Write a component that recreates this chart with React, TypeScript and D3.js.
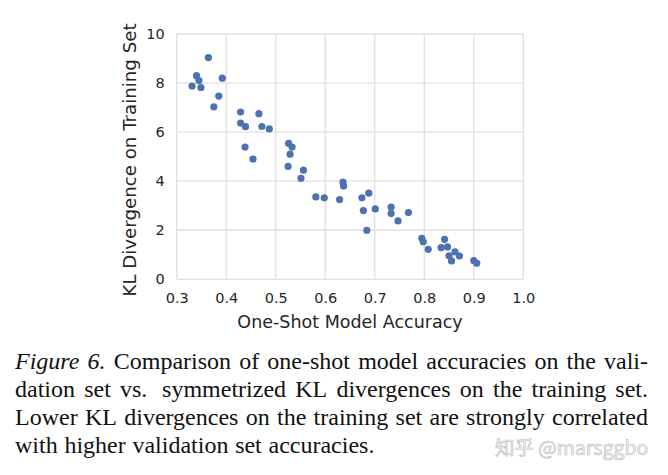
import React, { useEffect, useRef } from "react";
import * as d3 from "d3";

// one-shot model accuracy (x) vs KL divergence on training set (y)
const accuracy = [
  0.364, 0.34, 0.345, 0.331, 0.349, 0.392, 0.385, 0.375, 0.429, 0.466, 0.429,
  0.439, 0.472, 0.487, 0.438, 0.454, 0.526, 0.533, 0.529, 0.525, 0.556, 0.551,
  0.581, 0.598, 0.636, 0.637, 0.629, 0.674, 0.688, 0.677, 0.701, 0.684, 0.733,
  0.733, 0.747, 0.768, 0.795, 0.798, 0.808, 0.841, 0.834, 0.847, 0.862, 0.871,
  0.85, 0.855, 0.9, 0.906,
];
const klDivergence = [
  9.04, 8.3, 8.1, 7.88, 7.82, 8.2, 7.47, 7.03, 6.82, 6.75, 6.37, 6.22, 6.23,
  6.13, 5.39, 4.9, 5.54, 5.39, 5.1, 4.6, 4.45, 4.12, 3.36, 3.32, 3.96, 3.8,
  3.25, 3.32, 3.51, 2.8, 2.87, 2.0, 2.94, 2.68, 2.38, 2.72, 1.67, 1.53, 1.22,
  1.63, 1.29, 1.32, 1.12, 0.95, 0.96, 0.75, 0.76, 0.65,
];
const xTicks = [0.3, 0.4, 0.5, 0.6, 0.7, 0.8, 0.9, 1.0];
const yTicks = [0, 2, 4, 6, 8, 10];

const captionLines = [
  "Comparison of one-shot model accuracies on the vali-",
  "dation set vs.  symmetrized KL divergences on the training set.",
  "Lower KL divergences on the training set are strongly correlated",
  "with higher validation set accuracies.",
];

export default function App() {
  const ref = useRef<SVGSVGElement>(null);

  useEffect(() => {
    const svg = d3.select(ref.current);
    svg.selectAll("*").remove();

    const left = 176.7,
      right = 523.3,
      top = 34,
      bottom = 279.3;
    const font = "'DejaVu Sans', sans-serif";

    const x = d3.scaleLinear().domain([0.3, 1.0]).range([left, right]);
    const y = d3.scaleLinear().domain([0, 10]).range([bottom, top]);

    // grid
    const grid = svg.append("g");
    grid
      .selectAll("line.v")
      .data(xTicks)
      .enter()
      .append("line")
      .attr("x1", (d) => x(d))
      .attr("x2", (d) => x(d))
      .attr("y1", top)
      .attr("y2", bottom)
      .attr("stroke", "#e0e0e0")
      .attr("stroke-width", 1.3);
    grid
      .selectAll("line.h")
      .data(yTicks)
      .enter()
      .append("line")
      .attr("x1", left)
      .attr("x2", right)
      .attr("y1", (d) => y(d))
      .attr("y2", (d) => y(d))
      .attr("stroke", "#e0e0e0")
      .attr("stroke-width", 1.3);

    // tick labels
    const xAxis = svg
      .append("g")
      .attr("transform", "translate(0," + bottom + ")")
      .call(
        d3
          .axisBottom(x)
          .tickValues(xTicks)
          .tickSize(0)
          .tickPadding(13)
          .tickFormat(d3.format(".1f"))
      );
    const yAxis = svg
      .append("g")
      .attr("transform", "translate(" + left + ",0)")
      .call(d3.axisLeft(y).tickValues(yTicks).tickSize(0).tickPadding(12));
    [xAxis, yAxis].forEach((a) => {
      a.select(".domain").remove();
      a.selectAll("text")
        .attr("font-family", font)
        .attr("font-size", 14.5)
        .attr("fill", "#262626");
    });

    // axis labels
    svg
      .append("text")
      .attr("x", (left + right) / 2)
      .attr("y", 328)
      .attr("text-anchor", "middle")
      .attr("font-family", font)
      .attr("font-size", 17.5)
      .attr("fill", "#262626")
      .text("One-Shot Model Accuracy");
    svg
      .append("text")
      .attr("transform", "translate(136,160) rotate(-90)")
      .attr("text-anchor", "middle")
      .attr("font-family", font)
      .attr("font-size", 18.2)
      .attr("fill", "#262626")
      .text("KL Divergence on Training Set");

    // points
    svg
      .append("g")
      .selectAll("circle")
      .data(accuracy.map((a, i) => [a, klDivergence[i]]))
      .enter()
      .append("circle")
      .attr("cx", (d) => x(d[0]))
      .attr("cy", (d) => y(d[1]))
      .attr("r", 3.6)
      .attr("fill", "#4c72b0");

    // caption, justified
    const serif = "'Liberation Serif', 'Times New Roman', serif";
    const capLeft = 15,
      capRight = 648,
      fs = 24;
    const measure = (s: string, italic = false) => {
      const t = svg
        .append("text")
        .attr("font-family", serif)
        .attr("font-size", fs)
        .attr("font-style", italic ? "italic" : "normal")
        .text(s);
      const w = (t.node() as SVGTextElement).getComputedTextLength();
      t.remove();
      return w;
    };
    captionLines.forEach((line, li) => {
      const baseline = 369 + li * 28;
      type Word = { s: string; italic: boolean; weight: number };
      const words: Word[] = [];
      if (li === 0) {
        words.push({ s: "Figure", italic: true, weight: 1 });
        words.push({ s: "6.", italic: true, weight: 1 });
      }
      const parts = line.split(" ");
      let extra = 0;
      parts.forEach((p) => {
        if (p === "") {
          extra += 0.6;
          return;
        }
        words.push({ s: p, italic: false, weight: 1 + extra });
        extra = 0;
      });
      const widths = words.map((w) => measure(w.s, w.italic));
      const total = widths.reduce((a, b) => a + b, 0);
      const justify = li < captionLines.length - 1;
      const weights = words.slice(1).map((w) => w.weight);
      const wsum = weights.reduce((a, b) => a + b, 0);
      const unit = justify ? (capRight - capLeft - total) / wsum : fs * 0.28;
      let cx = capLeft;
      words.forEach((w, i) => {
        if (i > 0) cx += unit * w.weight;
        svg
          .append("text")
          .attr("x", cx)
          .attr("y", baseline)
          .attr("font-family", serif)
          .attr("font-size", fs)
          .attr("font-style", w.italic ? "italic" : "normal")
          .attr("fill", "#111")
          .text(w.s);
        cx += widths[i];
      });
    });

    // watermark
    svg
      .append("text")
      .attr("x", 495)
      .attr("y", 455)
      .attr("font-family", "'Noto Sans CJK SC', sans-serif")
      .attr("font-size", 19.5)
      .attr("fill", "#f4f4f4")
      .attr("stroke", "#c4c4c4")
      .attr("stroke-width", 0.7)
      .text("知乎 @marsggbo");
  }, []);

  return (
    <svg
      ref={ref}
      width={668}
      height={475}
      style={{ position: "absolute", left: 0, top: 0, background: "#fff" }}
    />
  );
}
